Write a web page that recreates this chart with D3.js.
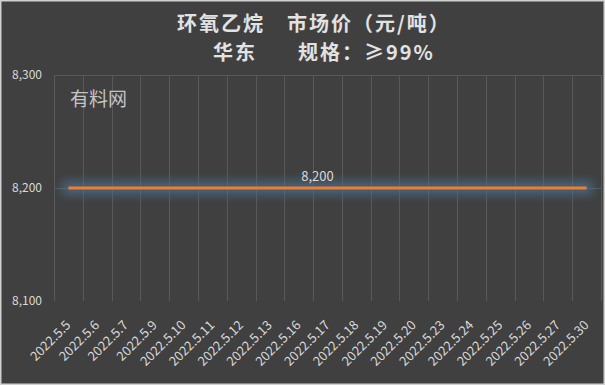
<!DOCTYPE html>
<html><head><meta charset="utf-8">
<script src="https://cdn.jsdelivr.net/npm/d3@7"></script>
<style>
html,body{margin:0;padding:0;background:#404040;}
svg{display:block;}
</style></head>
<body>
<script>
const categories = ["2022.5.5","2022.5.6","2022.5.7","2022.5.9","2022.5.10","2022.5.11","2022.5.12","2022.5.13","2022.5.16","2022.5.17","2022.5.18","2022.5.19","2022.5.20","2022.5.23","2022.5.24","2022.5.25","2022.5.26","2022.5.27","2022.5.30"];
const values = [8200,8200,8200,8200,8200,8200,8200,8200,8200,8200,8200,8200,8200,8200,8200,8200,8200,8200,8200];
const yTicks = [8100,8200,8300];
const titleParts = [
  {text:"环氧乙烷", line:0, x:177},
  {text:"市场价（元/吨）", line:0, x:287},
  {text:"华东", line:1, x:213},
  {text:"规格：≥99%", line:1, x:298}
];
const watermark = "有料网";
const labelIndex = 9;

const W = 605, H = 385;
const m = {left:54, right:4, top:75, bottom:84};
const font = "'Noto Sans CJK SC','Noto Sans',sans-serif";
const textColor = "#d9d9d9";

const svg = d3.select("body").append("svg").attr("width", W).attr("height", H);
svg.append("rect").attr("x",0.75).attr("y",0.75).attr("width",W-1.5).attr("height",H-1.5)
  .attr("fill","#404040").attr("stroke","#d0d0d0").attr("stroke-width",1.5);

const x = d3.scaleBand().domain(categories).range([m.left, W - m.right]);
const y = d3.scaleLinear().domain([8100, 8300]).range([H - m.bottom, m.top]);

const defs = svg.append("defs");
const f = defs.append("filter").attr("id","glow").attr("filterUnits","userSpaceOnUse")
  .attr("x",0).attr("y",0).attr("width",W).attr("height",H);
f.append("feGaussianBlur").attr("stdDeviation",4.5);

const g = svg.append("g");
g.selectAll("line.h").data(yTicks.filter(d=>d>8100)).join("line")
  .attr("x1", m.left).attr("x2", W - m.right)
  .attr("y1", d=>Math.round(y(d))+0.5).attr("y2", d=>Math.round(y(d))+0.5)
  .attr("stroke","#5a5a5a").attr("stroke-width",1);
const edges = categories.map(c=>x(c)).concat([x(categories[categories.length-1]) + x.bandwidth()]);
g.selectAll("line.v").data(edges).join("line")
  .attr("x1", d=>Math.round(d)+0.5).attr("x2", d=>Math.round(d)+0.5)
  .attr("y1", m.top).attr("y2", H - m.bottom)
  .attr("stroke","#595959").attr("stroke-width",1);

const yAxis = d3.axisLeft(y).tickValues(yTicks).tickSize(0).tickPadding(12).tickFormat(d3.format(","));
const ya = svg.append("g").attr("transform",`translate(${m.left},0)`).call(yAxis);
ya.select(".domain").remove();
ya.selectAll("text").attr("fill",textColor).attr("font-size",12).attr("font-family",font);

const xAxis = d3.axisBottom(x).tickSize(0).tickPadding(0);
const xa = svg.append("g").attr("transform",`translate(0,${H - m.bottom})`).call(xAxis);
xa.select(".domain").remove();
xa.selectAll("text").attr("fill",textColor).attr("font-size",13).attr("font-family",font)
  .attr("text-anchor","end").attr("dy",0).attr("y",0)
  .attr("transform","translate(3,25) rotate(-45)");

const line = d3.line().x((d,i)=>x(categories[i]) + x.bandwidth()/2).y(d=>y(d));
svg.append("path").datum(values).attr("d", line).attr("fill","none")
  .attr("stroke","#4a6e8c").attr("stroke-width",15).attr("stroke-linecap","round").attr("stroke-opacity",0.7).attr("filter","url(#glow)");
svg.append("path").datum(values).attr("d", line).attr("fill","none")
  .attr("stroke","#ed7d31").attr("stroke-width",3);

svg.append("text").attr("x", x(categories[labelIndex]) + x.bandwidth()/2 - 10).attr("y", y(values[labelIndex]) - 7)
  .attr("text-anchor","middle").attr("fill",textColor).attr("font-size",13).attr("font-family",font)
  .text(d3.format(",")(values[labelIndex]));

svg.selectAll("text.title").data(titleParts).join("text").attr("class","title")
  .attr("x", d=>d.x).attr("y", d=>30.5 + d.line*29)
  .attr("fill","#e2e2e2").attr("font-size",20).attr("letter-spacing",2).attr("font-weight","bold").attr("font-family",font)
  .text(d=>d.text);

svg.append("text").attr("x",70).attr("y",106).attr("fill","#c4c4c4").attr("font-size",19)
  .attr("font-family",font).text(watermark);
</script>
</body></html>
